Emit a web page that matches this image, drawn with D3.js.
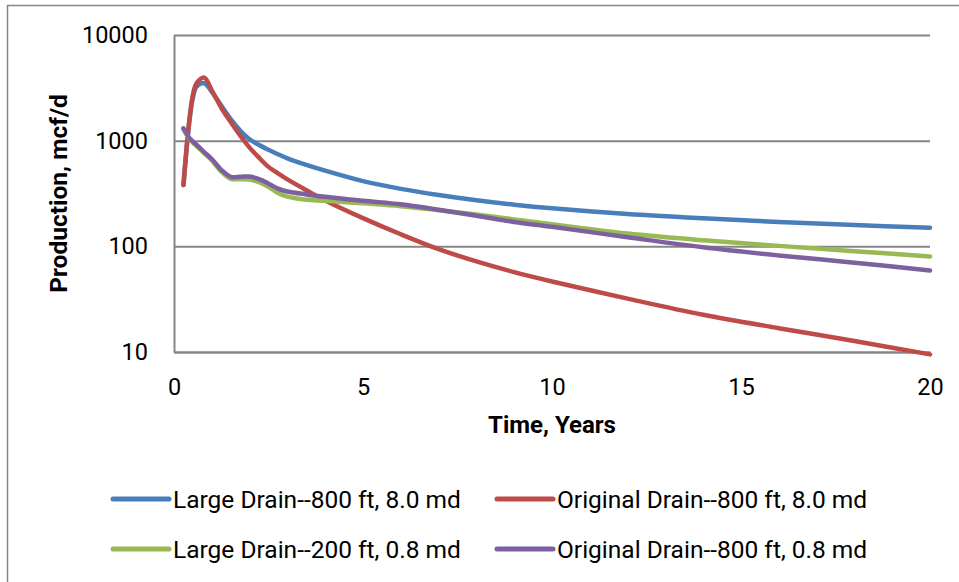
<!DOCTYPE html>
<html>
<head>
<meta charset="utf-8">
<script src="https://cdn.jsdelivr.net/npm/d3@7"></script>
<style>
  html, body { margin: 0; padding: 0; background: #fff; }
  svg { display: block; }
  text { font-family: Roboto, "Liberation Sans", sans-serif; fill: #000; }
</style>
</head>
<body>
<svg id="chart" width="959" height="582"></svg>
<script>
// ---- Data ----
const years = [0.25, 0.4, 0.5, 0.6, 0.8, 1.0, 1.25, 1.5, 1.75, 2.0, 2.25, 2.5, 2.75, 3.0, 3.5, 4.0, 5, 6, 7, 8, 9, 10, 12, 14, 16, 18, 20];

const largeDrain800_8 = [380, 1450, 2550, 3250, 3500, 2900, 2150, 1600, 1250, 1030, 910, 820, 745, 680, 590, 520, 414, 350, 306, 273, 248, 229, 202, 184, 170, 159, 150];
const originalDrain800_8 = [380, 1500, 2700, 3500, 3950, 3000, 2050, 1500, 1120, 860, 690, 565, 490, 430, 340, 272, 185, 130, 94, 72, 57, 46.5, 32, 22.5, 16.8, 12.7, 9.5];
const largeDrain200_08 = [1280, 1050, 960, 890, 760, 650, 510, 435, 432, 428, 405, 365, 320, 295, 276, 270, 255, 240, 220, 200, 180, 162, 132, 114, 101, 90, 80];
const originalDrain800_08 = [1310, 1070, 980, 910, 780, 670, 530, 455, 455, 458, 432, 392, 352, 330, 310, 295, 270, 250, 222, 195, 170, 153, 122, 98, 82, 70, 59];

const seriesNames = ["Large Drain--800 ft, 8.0 md", "Original Drain--800 ft, 8.0 md", "Large Drain--200 ft, 0.8 md", "Original Drain--800 ft, 0.8 md"];
const seriesColors = ["#4A7EBB", "#BE4B48", "#98B954", "#7D60A0"];
const xTicks = [0, 5, 10, 15, 20];
const yTicks = [10, 100, 1000, 10000];
const xTitle = "Time, Years";
const yTitle = "Production, mcf/d";

const seriesValues = [largeDrain800_8, originalDrain800_8, largeDrain200_08, originalDrain800_08];
const series = seriesNames.map((name, i) => ({
  name, color: seriesColors[i],
  points: years.map((t, j) => ({ t, v: seriesValues[i][j] }))
}));

// ---- Layout ----
const svg = d3.select("#chart");
const plot = { left: 174, right: 930, top: 35, bottom: 352 };
const x = d3.scaleLinear().domain([0, 20]).range([plot.left, plot.right]);
const y = d3.scaleLog().domain([10, 10000]).range([plot.bottom, plot.top]);
const gridColor = "#868686";

// outer chart border (left & top)
svg.append("line").attr("x1", 7.5).attr("x2", 7.5).attr("y1", 5).attr("y2", 582)
  .attr("stroke", gridColor).attr("stroke-width", 1.5);
svg.append("line").attr("x1", 7).attr("x2", 959).attr("y1", 5.5).attr("y2", 5.5)
  .attr("stroke", gridColor).attr("stroke-width", 1.5);

// horizontal gridlines
const yGrid = svg.append("g").attr("transform", `translate(${plot.left},0)`)
  .call(d3.axisLeft(y).tickValues(yTicks).tickSize(-(plot.right - plot.left)).tickFormat(""));
yGrid.select(".domain").remove();
yGrid.selectAll(".tick line").attr("stroke", gridColor).attr("stroke-width", 2);

// y axis line + labels
const yAxis = svg.append("g").attr("transform", `translate(${plot.left},0)`)
  .call(d3.axisLeft(y).tickValues(yTicks).tickSize(0).tickPadding(26).tickFormat(d3.format("d")));
yAxis.select(".domain").attr("stroke", gridColor).attr("stroke-width", 2);
yAxis.selectAll(".tick text").style("font-family", "Roboto, sans-serif").style("font-size", "23.5px").attr("fill", "#000");

// x axis labels
const xAxis = svg.append("g").attr("transform", `translate(0,${plot.bottom})`)
  .call(d3.axisBottom(x).tickValues(xTicks).tickSize(0).tickPadding(26).tickFormat(d3.format("d")));
xAxis.select(".domain").attr("stroke", gridColor).attr("stroke-width", 2);
xAxis.selectAll(".tick text").style("font-family", "Roboto, sans-serif").style("font-size", "23.5px").attr("fill", "#000");

// axis titles
svg.append("text").attr("x", (plot.left + plot.right) / 2) .attr("y", 433)
  .attr("text-anchor", "middle").style("font-size", "24px").style("font-weight", "bold").text(xTitle);
svg.append("text").attr("transform", `translate(67,${(plot.top + plot.bottom) / 2}) rotate(-90)`)
  .attr("text-anchor", "middle").style("font-size", "24.5px").style("font-weight", "bold").text(yTitle);

// lines
const line = d3.line().x(d => x(d.t)).y(d => y(d.v)).curve(d3.curveCatmullRom.alpha(0.5));
svg.append("g").selectAll("path").data(series).join("path")
  .attr("d", d => line(d.points))
  .attr("fill", "none").attr("stroke", d => d.color).attr("stroke-width", 4.5)
  .attr("stroke-linecap", "round").attr("stroke-linejoin", "round");

// legend
const legendPos = [[113, 499], [497, 499], [113, 549], [497, 549]];
const leg = svg.append("g").selectAll("g").data(series).join("g")
  .attr("transform", (d, i) => `translate(${legendPos[i][0]},${legendPos[i][1]})`);
leg.append("line").attr("x1", 0).attr("x2", 56).attr("y1", 0).attr("y2", 0)
  .attr("stroke", d => d.color).attr("stroke-width", 5).attr("stroke-linecap", "round");
leg.append("text").attr("x", 60).attr("y", 8.5).style("font-size", "24.5px").text(d => d.name);
</script>
</body>
</html>
